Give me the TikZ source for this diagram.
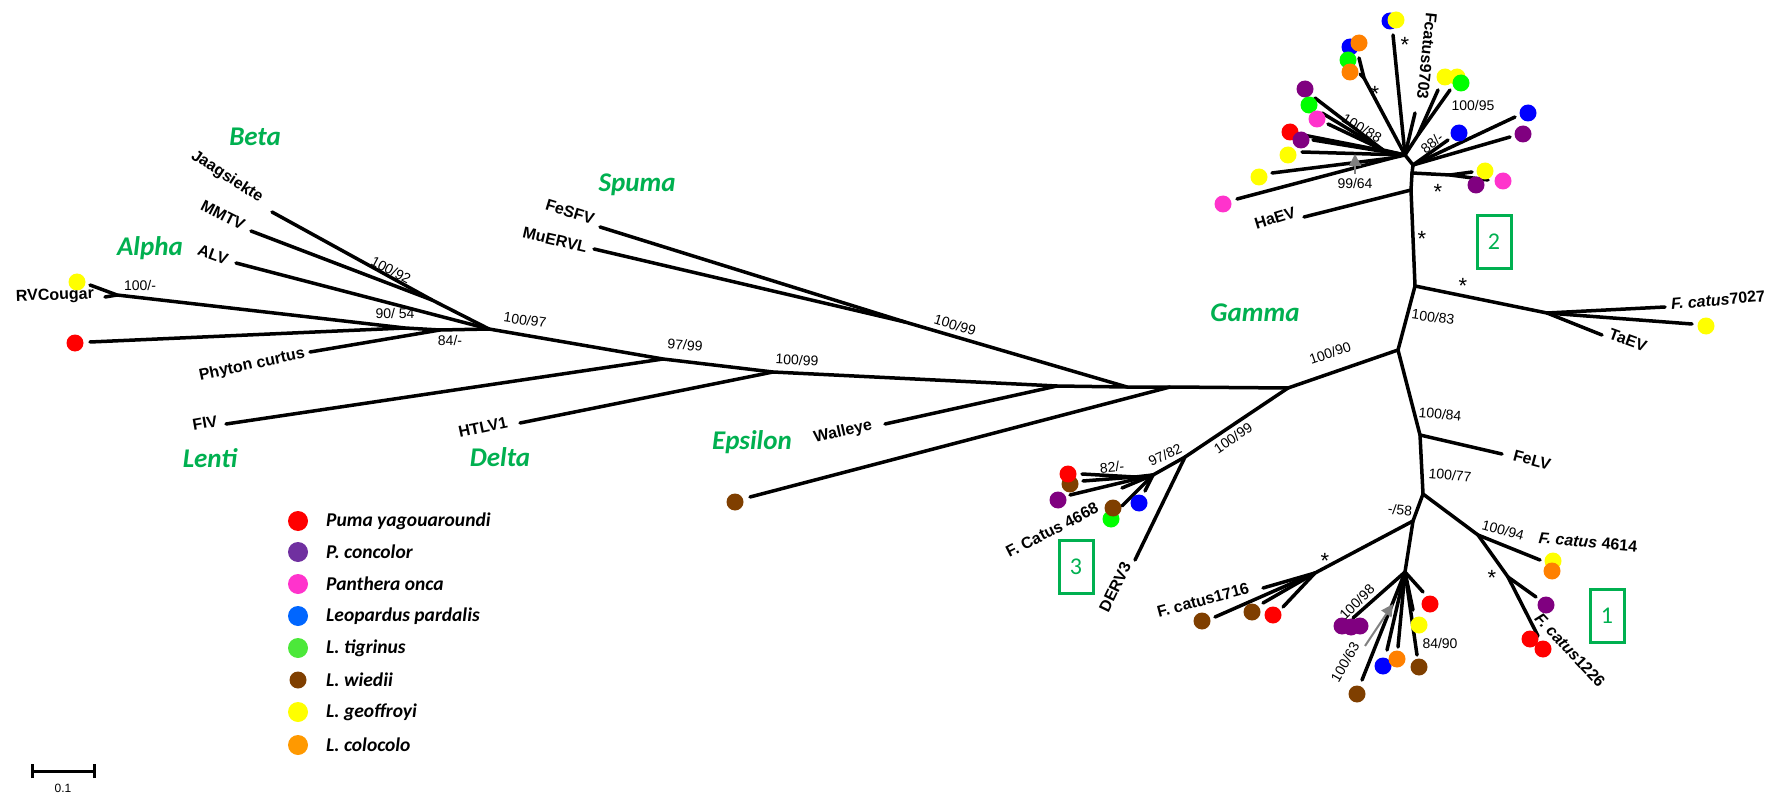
\documentclass[tikz,border=0pt]{standalone}
\usepackage{fontspec}
\setmainfont{Liberation Sans}
\newfontfamily\calib{Carlito}
\usetikzlibrary{arrows.meta}

% species colours on the tree
\definecolor{cRed}{HTML}{FF0000}
\definecolor{cPur}{HTML}{800080}
\definecolor{cMag}{HTML}{FF33CC}
\definecolor{cBlu}{HTML}{0000FF}
\definecolor{cGrn}{HTML}{00FF00}
\definecolor{cBrn}{HTML}{7F3F00}
\definecolor{cYel}{HTML}{FFFF00}
\definecolor{cOrg}{HTML}{FF8000}
% legend colours
\definecolor{lPur}{HTML}{7030A0}
\definecolor{lBlu}{HTML}{0066FF}
\definecolor{lGrn}{HTML}{4CE83A}
\definecolor{lOrg}{HTML}{FF9900}
\definecolor{cladegreen}{HTML}{00B050}

\tikzset{
  br/.style={line width=3.5pt, line cap=round, line join=round},
  dot/.style={circle, inner sep=0pt, minimum size=17pt, fill=#1},
  ldot/.style={circle, inner sep=0pt, minimum size=20pt, fill=#1},
  tip/.style={font=\fontsize{16pt}{16pt}\selectfont\bfseries, inner sep=0pt},
  bs/.style={font=\fontsize{14pt}{14pt}\selectfont, inner sep=0pt},
  clade/.style={font=\calib\fontsize{27pt}{27pt}\selectfont\bfseries\itshape, text=cladegreen, inner sep=0pt},
  star/.style={font=\fontsize{22pt}{22pt}\selectfont, inner sep=0pt},
  grp/.style={draw=cladegreen, line width=3pt, minimum width=34pt, minimum height=53pt, inner sep=0pt,
              font=\calib\fontsize{24pt}{24pt}\selectfont, text=cladegreen},
  leg/.style={font=\calib\fontsize{19.5pt}{19.5pt}\selectfont\bfseries\itshape, anchor=west, inner sep=0pt},
  garrow/.style={draw=gray, line width=2pt, -{Triangle[length=12pt,width=12pt]}},
}

\begin{document}
\begin{tikzpicture}[x=1pt, y=-1pt]
\useasboundingbox (0,0) rectangle (1769,794);

% ---------------- backbone ----------------
\coordinate (M1) at (489,329);
\coordinate (N97) at (663,359);
\coordinate (NH) at (773,372);
\coordinate (NW) at (1057,386);
\coordinate (NS) at (1127,387);
\coordinate (NE) at (1170,387);
\coordinate (NG) at (1288,388);
\draw[br] (M1) -- (N97) -- (NH) -- (NW) -- (NS) -- (NE) -- (NG);

% ---------------- Beta ----------------
\coordinate (NB) at (432,300);
\coordinate (tJa) at (272,212);
\coordinate (tMM) at (251,231);
\draw[br] (tJa) -- (NB) -- (M1);
\draw[br] (tMM) -- (NB);

% ---------------- Alpha and relatives ----------------
\coordinate (tALV) at (236,263);
\draw[br] (tALV) -- (M1);
\coordinate (A2) at (440,330);
\coordinate (A1) at (405,328);
\coordinate (Rn) at (117,295);
\coordinate (tYr) at (90,285);
\coordinate (tRV) at (105,297);
\coordinate (tRd) at (90,342);
\coordinate (tPh) at (310,352);
\draw[br] (M1) -- (A2) -- (A1) -- (Rn) -- (tYr);
\draw[br] (Rn) -- (tRV);
\draw[br] (A1) -- (tRd);
\draw[br] (A2) -- (tPh);

% ---------------- Lenti, Delta, Epsilon, Spuma ----------------
\coordinate (tFIV) at (226,424);
\draw[br] (tFIV) -- (N97);
\coordinate (tHT) at (520,423);
\draw[br] (tHT) -- (NH);
\coordinate (tWa) at (885,424);
\draw[br] (tWa) -- (NW);
\coordinate (NSp) at (905,322);
\coordinate (tFe) at (600,227);
\coordinate (tMu) at (594,249);
\draw[br] (tFe) -- (NSp) -- (NS);
\draw[br] (tMu) -- (NSp);
\coordinate (tEp) at (750,497);
\draw[br] (tEp) -- (NE);

% ---------------- Gamma: clade 3 ----------------
\coordinate (NG2) at (1398,350);
\coordinate (ND) at (1185,457);
\draw[br] (NG) -- (NG2);
\draw[br] (NG) -- (ND);
\coordinate (tDE) at (1135,560);
\draw[br] (ND) -- (tDE);
\coordinate (NC4) at (1153,475);
\draw[br] (ND) -- (NC4);
\coordinate (N82) at (1135,477);
\draw[br] (NC4) -- (N82);
\coordinate (tc1) at (1082,474);
\coordinate (tc2) at (1083,481);
\draw[br] (N82) -- (tc1);
\draw[br] (N82) -- (tc2);
\coordinate (tc3) at (1070,495);
\coordinate (tc4) at (1122,488);
\coordinate (tc5) at (1122,506);
\coordinate (tc6) at (1145,491);
\draw[br] (NC4) -- (tc3);
\draw[br] (NC4) -- (tc4);
\draw[br] (NC4) -- (tc5);
\draw[br] (NC4) -- (tc6);

% ---------------- Gamma: upper part (clade 2) ----------------
\coordinate (NU1) at (1415,286);
\draw[br] (NG2) -- (NU1);
\coordinate (NTa) at (1547,313);
\draw[br] (NU1) -- (NTa);
\coordinate (t70) at (1665,307);
\coordinate (tY70) at (1692,324);
\coordinate (tTa) at (1602,335);
\draw[br] (NTa) -- (t70);
\draw[br] (NTa) -- (tY70);
\draw[br] (NTa) -- (tTa);
\coordinate (NU2) at (1411,190);
\draw[br] (NU1) -- (NU2);
\coordinate (tHa) at (1304,217);
\draw[br] (NU2) -- (tHa);
\coordinate (NU3) at (1412,173);
\draw[br] (NU2) -- (NU3);
\coordinate (N3s) at (1450,175);
\coordinate (t3a) at (1472,172);
\coordinate (t3b) at (1488,180);
\draw[br] (NU3) -- (N3s) -- (t3a);
\draw[br] (N3s) -- (t3b);
\coordinate (Cr) at (1413,165);
\coordinate (C) at (1405,155);
\draw[br] (NU3) -- (Cr) -- (C);
% upward branch
\coordinate (tUp) at (1393,35);
\draw[br] (C) -- (tUp);
% orange/green cluster
\coordinate (NO) at (1364,78);
\coordinate (tO1) at (1359,58);
\coordinate (tO2) at (1360,74);
\draw[br] (C) -- (NO) -- (tO1);
\draw[br] (NO) -- (tO2);
% Fcatus9703 group
\coordinate (t97a) at (1415,113);
\draw[br] (C) -- (t97a);
\coordinate (N95) at (1418,135);
\coordinate (t95a) at (1438,90);
\coordinate (t95b) at (1450,90);
\draw[br] (C) -- (N95) -- (t95a);
\draw[br] (N95) -- (t95b);
% 100/88 group
\coordinate (N88) at (1383,150);
\coordinate (t88a) at (1315,98);
\coordinate (t88b) at (1322,113);
\coordinate (t88c) at (1328,124);
\draw[br] (C) -- (N88) -- (t88a);
\draw[br] (N88) -- (t88b);
\draw[br] (N88) -- (t88c);
% left fan
\coordinate (tL1) at (1303,135);
\coordinate (tL2) at (1313,140);
\coordinate (tL3) at (1302,152);
\draw[br] (C) -- (tL1);
\draw[br] (C) -- (tL2);
\draw[br] (C) -- (tL3);
\coordinate (N64) at (1392,158);
\coordinate (t64a) at (1272,173);
\coordinate (t64b) at (1237,199);
\draw[br] (C) -- (N64) -- (t64a);
\draw[br] (N64) -- (t64b);
% right fan
\coordinate (tRa) at (1448,140);
\coordinate (tRb) at (1515,117);
\coordinate (tRc) at (1510,137);
\draw[br] (Cr) -- (tRa);
\draw[br] (Cr) -- (tRb);
\draw[br] (Cr) -- (tRc);

% ---------------- Gamma: lower part (clade 1) ----------------
\coordinate (N84) at (1420,435);
\draw[br] (NG2) -- (N84);
\coordinate (tFeLV) at (1502,454);
\draw[br] (N84) -- (tFeLV);
\coordinate (N77) at (1423,494);
\draw[br] (N84) -- (N77);
\coordinate (N58) at (1413,521);
\draw[br] (N77) -- (N58);
\coordinate (N16) at (1315,573);
\coordinate (N2) at (1405,572);
\draw[br] (N58) -- (N16);
\draw[br] (N58) -- (N2);
\coordinate (t16a) at (1215,617);
\coordinate (t16b) at (1263,588);
\coordinate (t16c) at (1263,603);
\coordinate (t16d) at (1283,607);
\draw[br] (N16) -- (t16a);
\draw[br] (N16) -- (t16b);
\draw[br] (N16) -- (t16c);
\draw[br] (N16) -- (t16d);
\coordinate (t2a) at (1353,618);
\coordinate (t2b) at (1362,680);
\coordinate (t2c) at (1387,650);
\coordinate (t2d) at (1398,647);
\coordinate (t2e) at (1417,655);
\coordinate (t2f) at (1413,610);
\coordinate (t2g) at (1423,592);
\draw[br] (N2) -- (t2a);
\draw[br] (N2) -- (t2b);
\draw[br] (N2) -- (t2c);
\draw[br] (N2) -- (t2d);
\draw[br] (N2) -- (t2e);
\draw[br] (N2) -- (t2f);
\draw[br] (N2) -- (t2g);
\coordinate (NRc) at (1478,535);
\draw[br] (N77) -- (NRc);
\coordinate (t46) at (1540,560);
\draw[br] (NRc) -- (t46);
\coordinate (Nst) at (1508,577);
\draw[br] (NRc) -- (Nst);
\coordinate (t12p) at (1536,597);
\coordinate (t12r) at (1538,636);
\draw[br] (Nst) -- (t12p);
\draw[br] (Nst) -- (t12r);

% ---------------- tip dots ----------------
\node[dot=cYel] (dA1) at (77,282) {};
\node[dot=cRed] (dA2) at (75,343) {};
\node[dot=cBrn] (dE1) at (735,502) {};
% clade 3
\node[dot=cBrn] (d3b) at (1070,484) {};
\node[dot=cRed] (d3a) at (1068,474) {};
\node[dot=cPur] (d3c) at (1058,500) {};
\node[dot=cGrn] (d3e) at (1111,519) {};
\node[dot=cBrn] (d3d) at (1113,508) {};
\node[dot=cBlu] (d3f) at (1139,503) {};
% clade 2
\node[dot=cYel] (d70) at (1706,326) {};
\node[dot=cBlu] (dU1) at (1390,21) {};
\node[dot=cYel] (dU2) at (1396,20) {};
\node[dot=cBlu] (dO1) at (1350,47) {};
\node[dot=cOrg] (dO2) at (1359,43) {};
\node[dot=cGrn] (dO3) at (1348,60) {};
\node[dot=cOrg] (dO4) at (1350,72) {};
\node[dot=cYel] (d95a) at (1445,77) {};
\node[dot=cYel] (d95b) at (1457,77) {};
\node[dot=cGrn] (d95c) at (1461,83) {};
\node[dot=cPur] (d88a) at (1305,89) {};
\node[dot=cGrn] (d88b) at (1309,105) {};
\node[dot=cMag] (d88c) at (1317,119) {};
\node[dot=cRed] (dL1) at (1290,132) {};
\node[dot=cPur] (dL2) at (1301,140) {};
\node[dot=cYel] (dL3) at (1288,155) {};
\node[dot=cYel] (d64a) at (1259,177) {};
\node[dot=cMag] (d64b) at (1223,204) {};
\node[dot=cBlu] (dRa) at (1459,133) {};
\node[dot=cBlu] (dRb) at (1528,113) {};
\node[dot=cPur] (dRc) at (1523,134) {};
\node[dot=cYel] (d3sa) at (1485,171) {};
\node[dot=cPur] (d3sb) at (1476,185) {};
\node[dot=cMag] (d3sc) at (1503,181) {};
% clade 1
\node[dot=cBrn] (d16a) at (1202,621) {};
\node[dot=cBrn] (d16b) at (1252,612) {};
\node[dot=cRed] (d16c) at (1273,615) {};
\node[dot=cPur] (d2a1) at (1342,626) {};
\node[dot=cPur] (d2a2) at (1351,627) {};
\node[dot=cPur] (d2a3) at (1360,626) {};
\node[dot=cBrn] (d2b) at (1357,694) {};
\node[dot=cBlu] (d2c) at (1383,666) {};
\node[dot=cOrg] (d2d) at (1397,659) {};
\node[dot=cBrn] (d2e) at (1419,667) {};
\node[dot=cYel] (d2f) at (1419,625) {};
\node[dot=cRed] (d2g) at (1430,604) {};
\node[dot=cYel] (d46a) at (1553,561) {};
\node[dot=cOrg] (d46b) at (1552,571) {};
\node[dot=cPur] (d12p) at (1546,605) {};
\node[dot=cRed] (d12a) at (1530,639) {};
\node[dot=cRed] (d12b) at (1543,649) {};

% ---------------- tip names ----------------
\node[tip, rotate=-33] (lJa) at (227,177) {Jaagsiekte};
\node[tip, rotate=-27] (lMM) at (223,215) {MMTV};
\node[tip, rotate=-20] (lALV) at (213,255) {ALV};
\node[tip, rotate=2] (lRV) at (55,296) {RVCougar};
\node[tip, rotate=12] (lPh) at (252,365) {Phyton curtus};
\node[tip, rotate=10] (lFIV) at (205,423) {FIV};
\node[tip, rotate=12] (lHT) at (483,427) {HTLV1};
\node[tip, rotate=-17] (lFe) at (570,212) {FeSFV};
\node[tip, rotate=-13] (lMu) at (555,240) {MuERVL};
\node[tip, rotate=13] (lWa) at (843,432) {Walleye};
\node[tip, rotate=27] (l4668) at (1052,530) {F. Catus 4668};
\node[tip, rotate=64] (lDE) at (1115,587) {DERV3};
\node[tip, rotate=5] (l7027) at (1718,300) {\itshape F. catus\upshape7027};
\node[tip, rotate=-20] (lTa) at (1628,340) {TaEV};
\node[tip, rotate=17] (lHa) at (1275,218) {HaEV};
\node[tip, rotate=-96] (l9703) at (1427,56) {Fcatus9703};
\node[tip, rotate=-15] (lFeLV) at (1532,460) {FeLV};
\node[tip, rotate=15] (l1716) at (1203,600) {F. catus1716};
\node[tip, rotate=-5] (l4614) at (1588,542) {\itshape F. catus \upshape4614};
\node[tip, rotate=-47] (l1226) at (1570,650) {\itshape F. catus\upshape1226};

% ---------------- support values ----------------
\node[bs, rotate=-28] (b1) at (391,270) {100/92};
\node[bs] (b2) at (140,285) {100/-};
\node[bs] (b3) at (395,313) {90/ 54};
\node[bs] (b4) at (450,340) {84/-};
\node[bs, rotate=-8] (b5) at (525,320) {100/97};
\node[bs, rotate=-5] (b6) at (685,345) {97/99};
\node[bs, rotate=-3] (b7) at (797,360) {100/99};
\node[bs, rotate=-17] (b8) at (955,325) {100/99};
\node[bs, rotate=19] (b9) at (1330,353) {100/90};
\node[bs, rotate=34] (b10) at (1233,438) {100/99};
\node[bs, rotate=25] (b11) at (1165,455) {97/82};
\node[bs, rotate=5] (b12) at (1112,467) {82/-};
\node[bs, rotate=-8] (b13) at (1433,317) {100/83};
\node[bs, rotate=-5] (b14) at (1440,414) {100/84};
\node[bs, rotate=-5] (b15) at (1450,475) {100/77};
\node[bs, rotate=-5] (b16) at (1400,510) {-/58};
\node[bs, rotate=45] (b17) at (1357,602) {100/98};
\node[bs, rotate=60] (b18) at (1345,662) {100/63};
\node[bs] (b19) at (1440,643) {84/90};
\node[bs, rotate=-15] (b20) at (1503,530) {100/94};
\node[bs] (b21) at (1355,183) {99/64};
\node[bs, rotate=-30] (b22) at (1362,128) {100/88};
\node[bs] (b23) at (1473,105) {100/95};
\node[bs, rotate=40] (b24) at (1432,143) {88/-};

% bootstrap stars (glyph sits high in its box, hence the lower anchor points)
\node[star] (s1) at (1405,45) {*};
\node[star] (s2) at (1375,94) {*};
\node[star] (s3) at (1438,192) {*};
\node[star] (s4) at (1422,239) {*};
\node[star] (s5) at (1463,286) {*};
\node[star] (s6) at (1325,561) {*};
\node[star] (s7) at (1492,578) {*};

% grey pointers
\coordinate (ga0) at (1355,174);
\coordinate (ga1) at (1355,154);
\draw[garrow] (ga0) -- (ga1);
\coordinate (gb0) at (1365,646);
\coordinate (gb1) at (1393,604);
\draw[garrow] (gb0) -- (gb1);

% ---------------- group boxes ----------------
\node[grp] (g1) at (1607,616) {1};
\node[grp] (g2) at (1494,242) {2};
\node[grp] (g3) at (1076,567) {3};

% ---------------- genus names ----------------
\node[clade] (cBeta) at (255,137) {Beta};
\node[clade] (cAlpha) at (150,248) {Alpha};
\node[clade] (cLenti) at (210,458) {Lenti};
\node[clade] (cSpuma) at (637,185) {Spuma};
\node[clade] (cDelta) at (500,457) {Delta};
\node[clade] (cEps) at (752,442) {Epsilon};
\node[clade] (cGam) at (1255,313) {Gamma};

% ---------------- legend ----------------
\node[ldot=cRed] (k1) at (298,521) {};
\node[ldot=lPur] (k2) at (298,552) {};
\node[ldot=cMag] (k3) at (298,584) {};
\node[ldot=lBlu] (k4) at (298,616) {};
\node[ldot=lGrn] (k5) at (298,648) {};
\node[ldot=cBrn, minimum size=17pt] (k6) at (298,680) {};
\node[ldot=cYel] (k7) at (298,712) {};
\node[ldot=lOrg] (k8) at (298,745) {};
\node[leg] (e1) at (326,521) {Puma yagouaroundi};
\node[leg] (e2) at (326,552) {P. concolor};
\node[leg] (e3) at (326,584) {Panthera onca};
\node[leg] (e4) at (326,616) {Leopardus pardalis};
\node[leg] (e5) at (326,648) {L. tigrinus};
\node[leg] (e6) at (326,680) {L. wiedii};
\node[leg] (e7) at (326,712) {L. geoffroyi};
\node[leg] (e8) at (326,745) {L. colocolo};

% ---------------- scale bar ----------------
\coordinate (sb0) at (32,771);
\coordinate (sb1) at (94,771);
\draw[line width=3pt] (sb0) -- (sb1);
\draw[line width=3pt] ([yshift=-7pt]sb0) -- ([yshift=7pt]sb0);
\draw[line width=3pt] ([yshift=-7pt]sb1) -- ([yshift=7pt]sb1);
\node[font=\fontsize{12pt}{12pt}\selectfont, inner sep=0pt] (sbl) at (63,788) {0.1};
\end{tikzpicture}
\end{document}
